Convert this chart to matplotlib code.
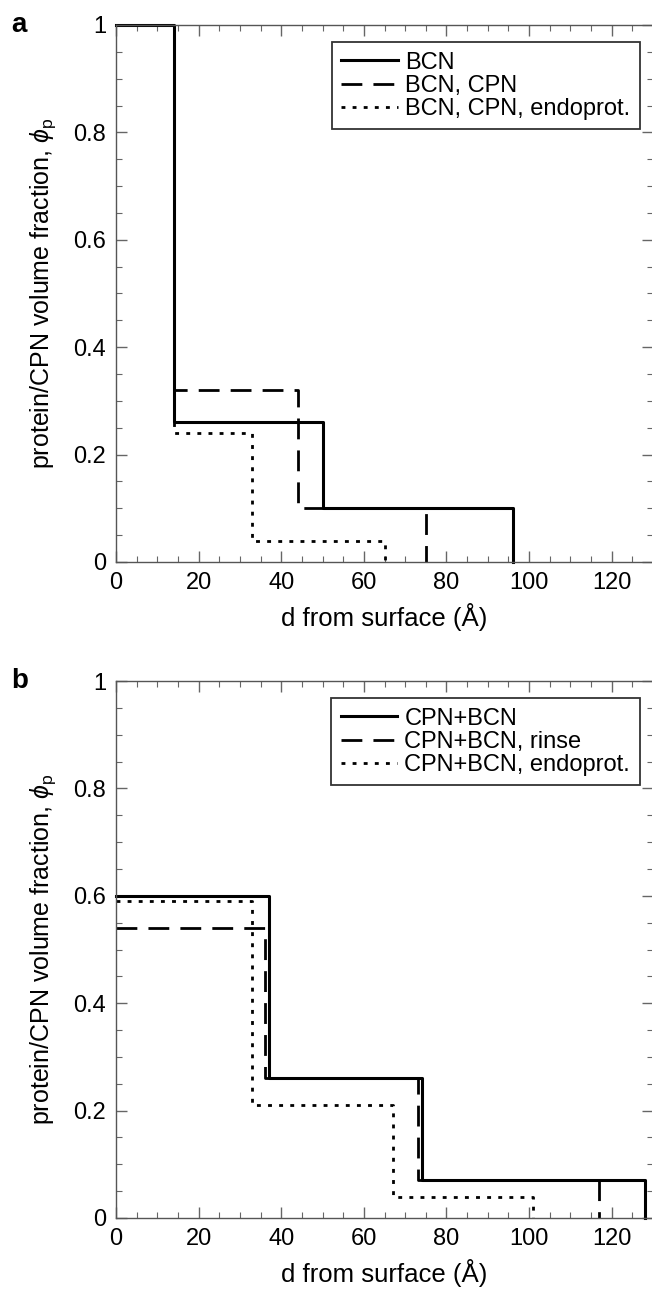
import matplotlib
matplotlib.use('Agg')
import matplotlib.pyplot as plt
from matplotlib.ticker import MultipleLocator

plt.rcParams['font.family'] = ['Liberation Sans', 'DejaVu Sans']
plt.rcParams['mathtext.fontset'] = 'custom'
plt.rcParams['mathtext.rm'] = 'Liberation Sans'
plt.rcParams['mathtext.it'] = 'Liberation Sans:italic'

# panel a: step profiles (d in Angstrom, volume fraction)
a_bcn_x = [0, 14, 14, 50, 50, 96, 96]
a_bcn_y = [1, 1, 0.26, 0.26, 0.10, 0.10, 0]
a_cpn_x = [0, 14, 14, 44, 44, 75, 75]
a_cpn_y = [1, 1, 0.32, 0.32, 0.10, 0.10, 0]
a_endo_x = [0, 14, 14, 33, 33, 65, 65]
a_endo_y = [1, 1, 0.24, 0.24, 0.04, 0.04, 0]
a_labels = ['BCN', 'BCN, CPN', 'BCN, CPN, endoprot.']

# panel b
b_cb_x = [0, 37, 37, 74, 74, 128, 128]
b_cb_y = [0.60, 0.60, 0.26, 0.26, 0.07, 0.07, 0]
b_rinse_x = [0, 36, 36, 73, 73, 117, 117]
b_rinse_y = [0.54, 0.54, 0.26, 0.26, 0.07, 0.07, 0]
b_endo_x = [0, 33, 33, 67, 67, 101, 101]
b_endo_y = [0.59, 0.59, 0.21, 0.21, 0.04, 0.04, 0]
b_labels = ['CPN+BCN', 'CPN+BCN, rinse', 'CPN+BCN, endoprot.']

W, H = 652, 1297
fig = plt.figure(figsize=(W / 100, H / 100), dpi=100)

styles = [
    dict(ls='-', lw=2.2),
    dict(ls=(0, (7.5, 4)), lw=2.0),
    dict(ls=(0, (1.4, 2.6)), lw=2.0),
]


def px_axes(left, top, right, bottom):
    return fig.add_axes([left / W, 1 - bottom / H, (right - left) / W, (bottom - top) / H])


def setup(ax, letter):
    ax.set_xlim(0, 130)
    ax.set_ylim(0, 1)
    ax.xaxis.set_major_locator(MultipleLocator(20))
    ax.xaxis.set_minor_locator(MultipleLocator(5))
    ax.set_yticks([0, 0.2, 0.4, 0.6, 0.8, 1])
    ax.set_yticklabels(['0', '0.2', '0.4', '0.6', '0.8', '1'])
    ax.yaxis.set_minor_locator(MultipleLocator(0.05))
    ax.tick_params(which='both', direction='in', top=True, right=True,
                   color='#666666', labelsize=17, pad=7)
    ax.tick_params(which='major', length=8, width=1)
    ax.tick_params(which='minor', length=4, width=0.8)
    for s in ax.spines.values():
        s.set_color('#555555')
        s.set_linewidth(1)
    ax.set_xlabel('d from surface (Å)', fontsize=18.5, labelpad=7)
    ax.set_ylabel(r'protein/CPN volume fraction, $\phi_\mathrm{p}$', fontsize=18, labelpad=11)
    ax.text(-0.195, 1.0, letter, transform=ax.transAxes, fontsize=20,
            fontweight='bold', va='center', ha='left')
    leg = ax.legend(loc='upper right', bbox_to_anchor=(0.975, 0.968), fontsize=17,
                    frameon=True, fancybox=False, edgecolor='black',
                    handlelength=2.4, handletextpad=0.3, borderpad=0.4,
                    labelspacing=0.05, borderaxespad=0)
    leg.get_frame().set_linewidth(1.3)


ax1 = px_axes(116, 25, 653, 562)
ax1.plot(a_bcn_x, a_bcn_y, color='black', label=a_labels[0], clip_on=False, **styles[0])
ax1.plot(a_cpn_x, a_cpn_y, color='black', label=a_labels[1], **styles[1])
ax1.plot(a_endo_x, a_endo_y, color='black', label=a_labels[2], **styles[2])
setup(ax1, 'a')

ax2 = px_axes(116, 681, 653, 1218)
ax2.plot(b_cb_x, b_cb_y, color='black', label=b_labels[0], clip_on=False, **styles[0])
ax2.plot(b_rinse_x, b_rinse_y, color='black', label=b_labels[1], **styles[1])
ax2.plot(b_endo_x, b_endo_y, color='black', label=b_labels[2], **styles[2])
setup(ax2, 'b')

fig.savefig('out.png', dpi=100)
